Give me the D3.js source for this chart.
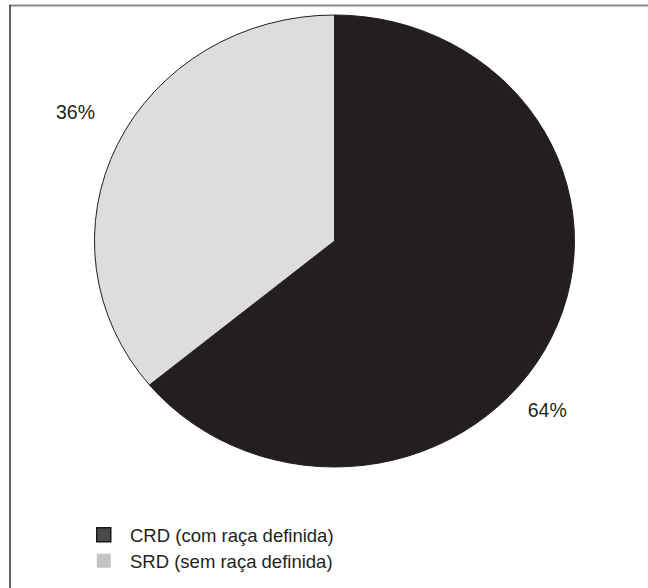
<!DOCTYPE html>
<html>
<head>
<meta charset="utf-8">
<script src="https://cdn.jsdelivr.net/npm/d3@7"></script>
<style>
  html, body { margin: 0; padding: 0; background: #fff; }
  svg { display: block; }
  text { font-family: "Liberation Sans", Arial, sans-serif; fill: #231f20; }
</style>
</head>
<body>
<svg id="chart" width="648" height="588"></svg>
<script>
// Breed composition of the sample
const categories = ["CRD (com raça definida)", "SRD (sem raça definida)"];
const shares = [64, 36];
const sliceLabels = ["64%", "36%"];
const sliceColors = ["#231f20", "#dcdddf"];
const legendColors = ["#4a4a4c", "#c2c3c5"];

const svg = d3.select("#chart");

// frame (top and left edges)
svg.append("line").attr("x1", 9).attr("x2", 648).attr("y1", 5.5).attr("y2", 5.5)
  .attr("stroke", "#8a8a8a").attr("stroke-width", 2);
svg.append("line").attr("x1", 10).attr("x2", 10).attr("y1", 5).attr("y2", 588)
  .attr("stroke", "#333").attr("stroke-width", 1.5);

const cx = 334.5, cy = 241, rx = 240, ry = 226;

const pie = d3.pie().sort(null).value(d => d);
const arcs = pie(shares);
const arc = d3.arc().innerRadius(0).outerRadius(1);

const g = svg.append("g").attr("transform", `translate(${cx},${cy}) scale(${rx},${ry})`);
g.selectAll("path").data(arcs).join("path")
  .attr("d", arc)
  .attr("fill", (d, i) => sliceColors[i])
  .attr("stroke", "#231f20")
  .attr("stroke-width", 1)
  .attr("vector-effect", "non-scaling-stroke");

// percentage labels outside the slices: position along the slice's angular span and radial distance
const labelFrac = [0.565, 0.52];
const labelDist = [1.16, 1.22];
function labelPos(d, i) {
  const a = d.startAngle + (d.endAngle - d.startAngle) * labelFrac[i];
  return [cx + Math.sin(a) * rx * labelDist[i], cy - Math.cos(a) * ry * labelDist[i]];
}
svg.selectAll("text.pct").data(arcs).join("text")
  .attr("class", "pct")
  .attr("x", (d, i) => labelPos(d, i)[0])
  .attr("y", (d, i) => labelPos(d, i)[1])
  .attr("text-anchor", "middle")
  .attr("dominant-baseline", "central")
  .attr("font-size", 19.5)
  .text((d, i) => sliceLabels[i]);

// legend
const legend = svg.append("g").attr("transform", "translate(96,527)");
const item = legend.selectAll("g").data(categories).join("g")
  .attr("transform", (d, i) => `translate(0,${i * 26})`);
item.append("rect")
  .attr("x", 0.75).attr("y", 0.75).attr("width", 14).attr("height", 14)
  .attr("fill", (d, i) => legendColors[i])
  .attr("stroke", (d, i) => i === 0 ? "#1a1a1a" : "none")
  .attr("stroke-width", 1.5);
item.append("text")
  .attr("x", 34).attr("y", 14.5)
  .attr("font-size", 18.5)
  .text(d => d);
</script>
</body>
</html>
